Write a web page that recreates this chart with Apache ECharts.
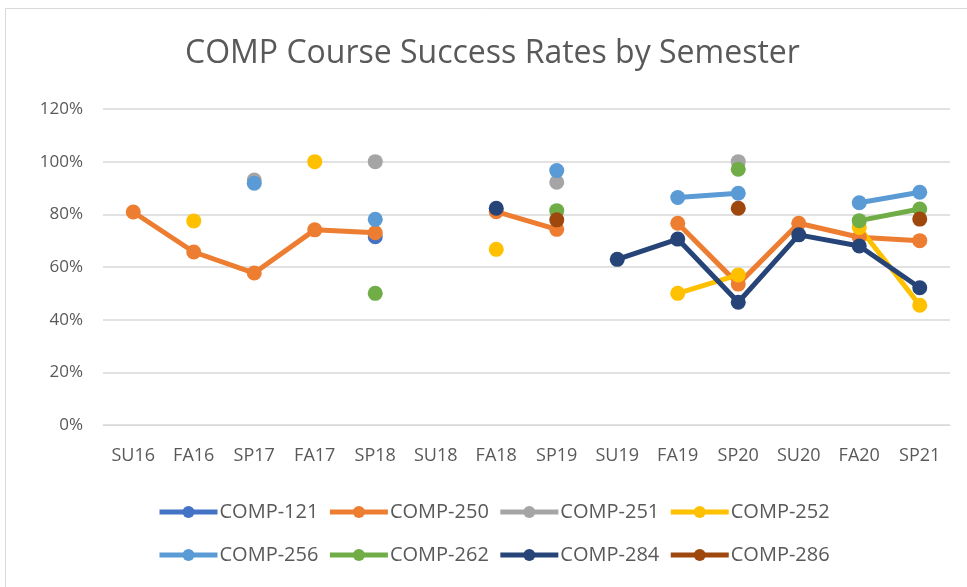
<!DOCTYPE html>
<html>
<head>
<meta charset="utf-8">
<script src="https://cdn.jsdelivr.net/npm/echarts@6/dist/echarts.min.js"></script>
<style>
  html, body { margin: 0; padding: 0; background: #fff; }
  #chart { width: 967px; height: 587px; }
</style>
</head>
<body>
<div id="chart"></div>
<script>
  var semesters = ['SU16', 'FA16', 'SP17', 'FA17', 'SP18', 'SU18', 'FA18', 'SP19', 'SU19', 'FA19', 'SP20', 'SU20', 'FA20', 'SP21']

  var comp121 = [null, null, null, null, 71.5, null, null, null, null, null, null, null, null, null]
  var comp250 = [80.9, 65.7, 57.7, 74.1, 73.0, null, 81.0, 74.3, null, 76.6, 53.5, 76.6, 71.3, 70.0]
  var comp251 = [null, null, 93.0, null, 100, null, null, 92.2, null, null, 100, null, null, null]
  var comp252 = [null, 77.5, null, 100, null, null, 66.7, null, null, 50.0, 57.0, null, 75.0, 45.5]
  var comp256 = [null, null, 91.8, null, 78.1, null, null, 96.6, null, 86.4, 88.0, null, 84.4, 88.4]
  var comp262 = [null, null, null, null, 50.0, null, null, 81.4, null, null, 97.1, null, 77.6, 82.0]
  var comp284 = [null, null, null, null, null, null, 82.3, null, 62.9, 70.6, 46.6, 72.2, 68.0, 52.1]
  var comp286 = [null, null, null, null, null, null, null, 77.9, null, null, 82.3, null, null, 78.2]

  var yTicks = [0, 20, 40, 60, 80, 100, 120]

  var seriesList = [
    { name: 'COMP-121', data: comp121, color: '#4472C4' },
    { name: 'COMP-250', data: comp250, color: '#ED7D31' },
    { name: 'COMP-251', data: comp251, color: '#A5A5A5' },
    { name: 'COMP-252', data: comp252, color: '#FFC000' },
    { name: 'COMP-256', data: comp256, color: '#5B9BD5' },
    { name: 'COMP-262', data: comp262, color: '#70AD47' },
    { name: 'COMP-284', data: comp284, color: '#264478' },
    { name: 'COMP-286', data: comp286, color: '#9E480E' }
  ]

  var font = 'Open Sans'
  var textColor = '#595959'

  function legendRow(names, top) {
    return {
      data: names,
      left: 152,
      top: top,
      itemWidth: 58,
      itemHeight: 15,
      itemGap: 9,
      lineStyle: { width: 5 },
      textStyle: { fontFamily: font, fontSize: 20, color: textColor, padding: [0, 0, 0, -3] }
    }
  }

  var chart = echarts.init(document.getElementById('chart'))
  chart.setOption({
    animation: false,
    backgroundColor: '#fff',
    graphic: [
      {
        type: 'rect',
        shape: { x: 5.5, y: 8.5, width: 970, height: 600 },
        style: { fill: 'none', stroke: '#D9D9D9', lineWidth: 1 }
      }
    ],
    title: {
      text: 'COMP Course Success Rates by Semester',
      left: 180,
      top: 33,
      textStyle: {
        fontFamily: font,
        fontSize: 32,
        fontWeight: 'normal',
        color: textColor
      }
    },
    grid: {
      left: 103,
      right: 17,
      top: 109,
      bottom: 162,
      containLabel: false
    },
    xAxis: {
      type: 'category',
      data: semesters,
      boundaryGap: true,
      axisLine: { show: true, lineStyle: { color: '#D9D9D9', width: 1 } },
      axisTick: { show: false },
      axisLabel: {
        fontFamily: font,
        fontSize: 18,
        color: textColor,
        margin: 22
      }
    },
    yAxis: {
      type: 'value',
      min: yTicks[0],
      max: yTicks[yTicks.length - 1],
      interval: 20,
      axisLine: { show: false },
      axisTick: { show: false },
      splitLine: { lineStyle: { color: '#D9D9D9', width: 1.5 } },
      axisLabel: {
        fontFamily: font,
        fontSize: 17,
        color: textColor,
        margin: 20,
        formatter: '{value}%'
      }
    },
    legend: [
      legendRow(seriesList.slice(0, 4).map(function (s) { return s.name }), 497),
      legendRow(seriesList.slice(4).map(function (s) { return s.name }), 540)
    ],
    series: seriesList.map(function (s) {
      return {
        name: s.name,
        type: 'line',
        data: s.data,
        connectNulls: false,
        symbol: 'circle',
        symbolSize: 15,
        showSymbol: true,
        showAllSymbol: true,
        color: s.color,
        lineStyle: { width: 5, color: s.color },
        itemStyle: { color: s.color }
      }
    })
  })
</script>
</body>
</html>
